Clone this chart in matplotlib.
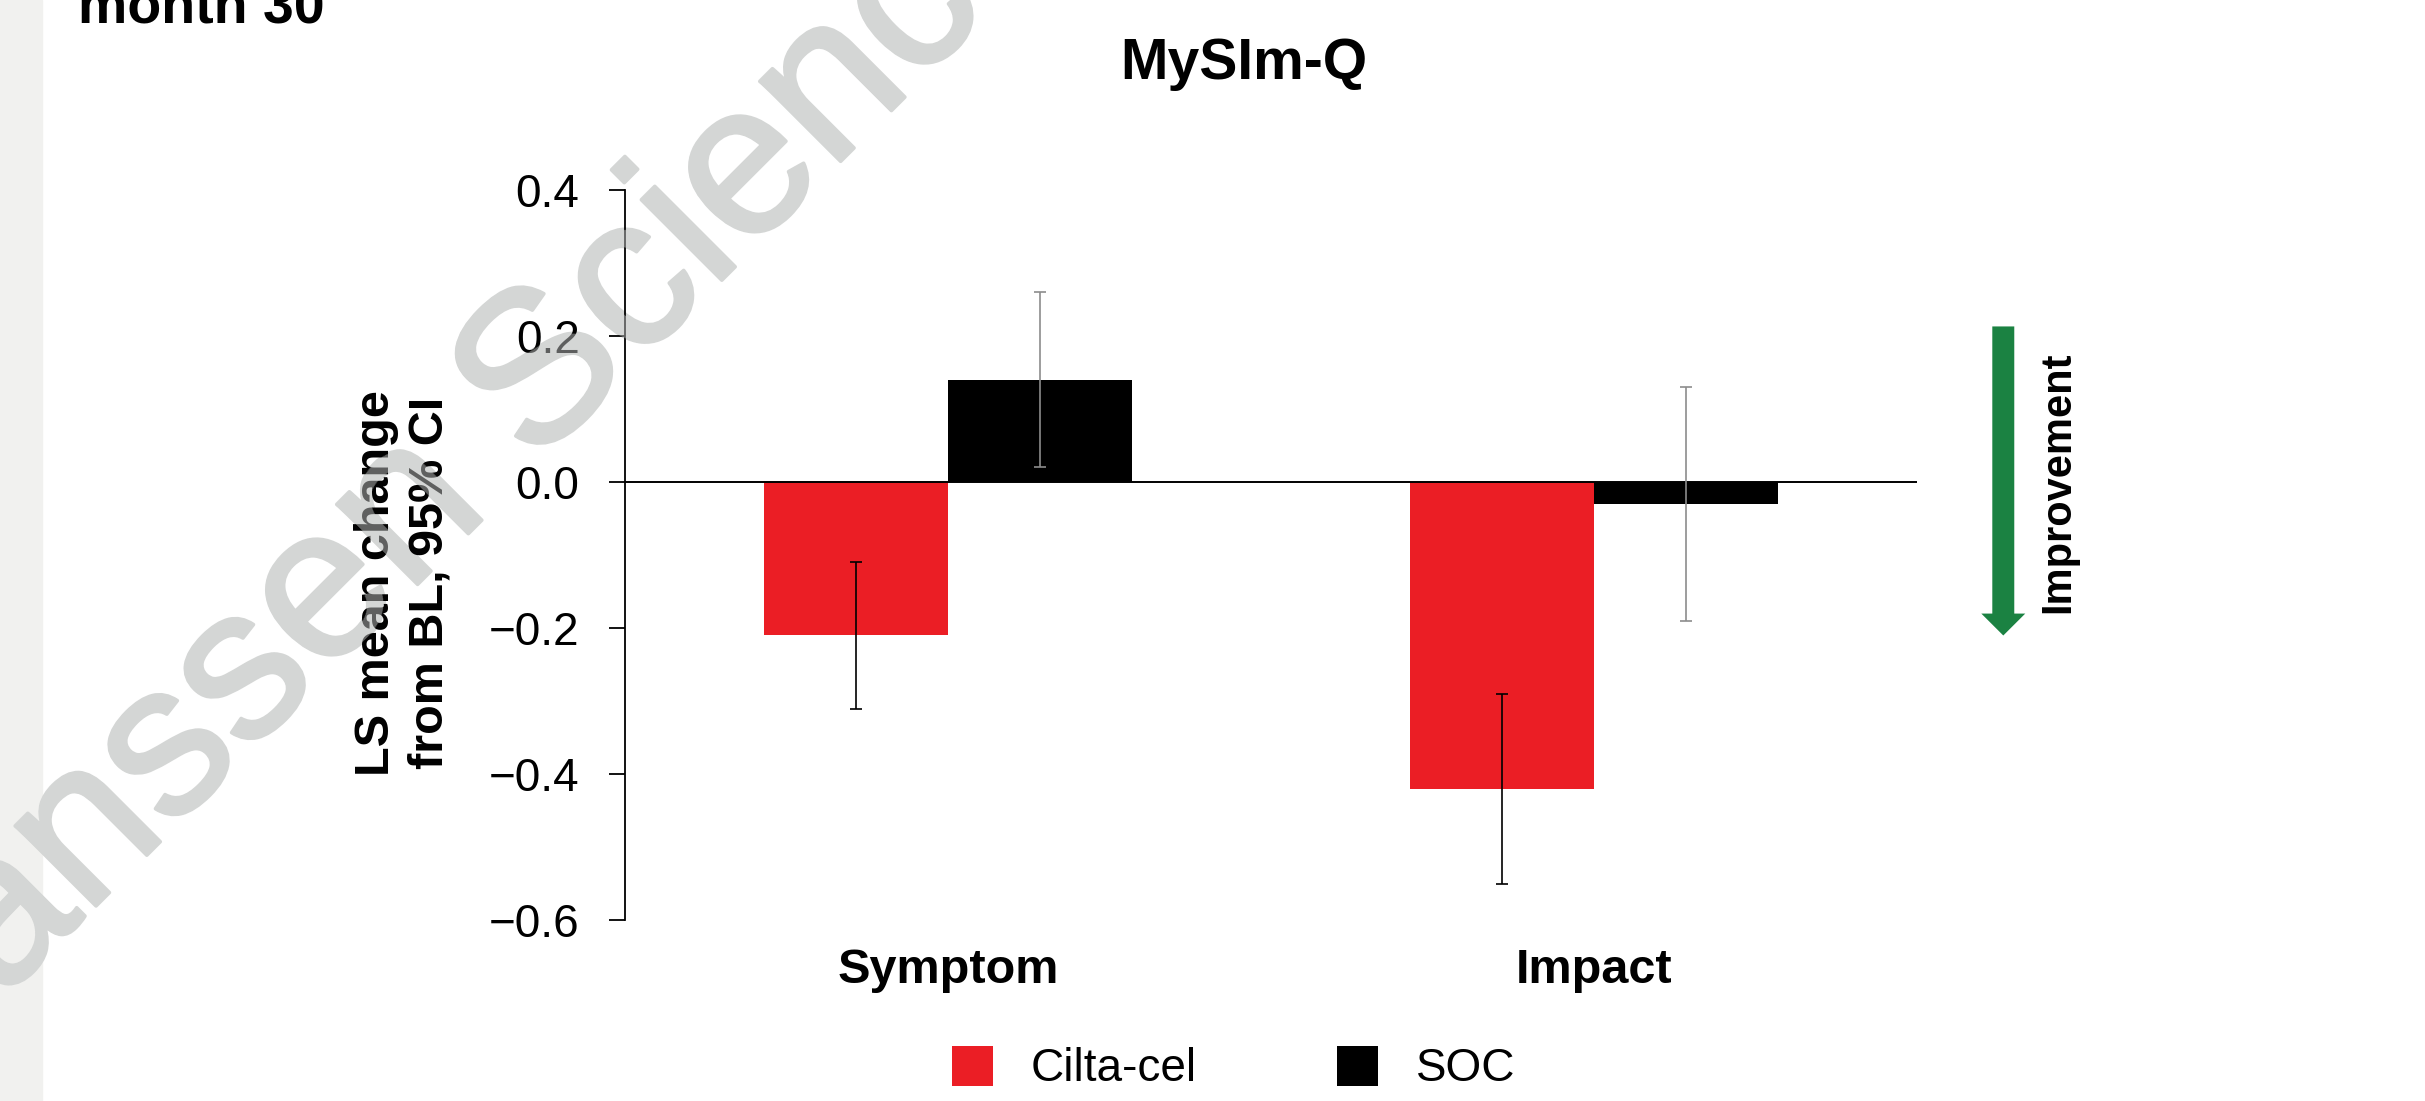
import numpy as np
import matplotlib
matplotlib.use("Agg")
import matplotlib.pyplot as plt
import matplotlib.patheffects as pe
from matplotlib.patches import Patch, Rectangle, FancyArrow
from matplotlib.transforms import blended_transform_factory

plt.rcParams['font.family'] = ['Liberation Sans', 'DejaVu Sans']

# MySIm-Q, LS mean change from baseline with 95% CI
categories = ["Symptom", "Impact"]
cilta_mean = [-0.21, -0.42]
cilta_lo = [-0.31, -0.55]
cilta_hi = [-0.11, -0.29]
soc_mean = [0.14, -0.03]
soc_lo = [0.02, -0.19]
soc_hi = [0.26, 0.13]
yticks = [-0.6, -0.4, -0.2, 0.0, 0.2, 0.4]

red = "#EB1E25"
green = "#1B8242"
wm_color = "#d4d6d5"

fig = plt.figure(figsize=(24.25, 11.01), dpi=100)

# grey strip on the left edge of the slide
fig.patches.append(Rectangle((0, 0), 42 / 2425, 1, transform=fig.transFigure,
                             color="#f1f1ef", zorder=-2))

ax = fig.add_axes([0.2576, 0.1640, 0.5330, 0.6636])

x = np.arange(len(categories))
w = 0.285

cm = np.array(cilta_mean)
sm = np.array(soc_mean)
ax.bar(x - w / 2, cm, w, color=red, linewidth=0, zorder=2)
ax.bar(x + w / 2, sm, w, color="black", linewidth=0, zorder=2)

ax.axhline(0, color="black", lw=1.4, zorder=2.5)

ax.errorbar(x - w / 2, cm, yerr=[cm - np.array(cilta_lo), np.array(cilta_hi) - cm],
            fmt="none", ecolor="black", elinewidth=1.2, capsize=4.3, capthick=1.2, zorder=3)
ax.errorbar(x + w / 2, sm, yerr=[sm - np.array(soc_lo), np.array(soc_hi) - sm],
            fmt="none", ecolor="#8c8c8c", elinewidth=1.2, capsize=4.3, capthick=1.2, zorder=3)

ax.set_xlim(-0.5, 1.5)
ax.set_ylim(-0.6, 0.4)
ax.set_yticks(yticks)
ax.set_xticks(x)
ax.set_xticklabels(categories, fontsize=35, fontweight="bold")
ax.tick_params(axis="x", length=0, pad=20)
ax.tick_params(axis="y", length=11.5, width=1.3, pad=21, labelsize=33, direction="out")

for s in ["top", "right", "bottom"]:
    ax.spines[s].set_visible(False)
ax.spines["left"].set_linewidth(1.3)
ax.patch.set_alpha(0)

ax.set_ylabel("LS mean change\nfrom BL, 95% CI", fontsize=35, fontweight="bold",
              linespacing=1.25)
ax.yaxis.set_label_coords(-0.133, 0.462)

# improvement arrow, right of the plot
tr = blended_transform_factory(ax.transAxes, ax.transData)
ax.add_patch(FancyArrow(1.0666, 0.213, 0, -0.423, width=0.017, head_width=0.034,
                        head_length=0.030, length_includes_head=True,
                        color=green, lw=0, transform=tr, clip_on=False))
ax.text(1.1095, 0.0, "Improvement", transform=tr, rotation=90, ha="center",
        va="center", fontsize=30, fontweight="bold")

fig.text(0.513, 0.928, "MySIm-Q", ha="center", va="baseline", fontsize=41,
         fontweight="bold")
fig.text(0.0322, 0.980, "month 30", ha="left", va="baseline", fontsize=40,
         fontweight="bold")

handles = [Patch(facecolor=red, edgecolor="none"),
           Patch(facecolor="black", edgecolor="none")]
fig.legend(handles, ["Cilta-cel", "SOC"], loc="center", bbox_to_anchor=(0.5087, 0.0294),
           ncol=2, frameon=False, fontsize=33, handlelength=0.895, handleheight=0.96,
           handletextpad=0.82, columnspacing=3.06)

# watermark: solid copy behind the chart, faint copy on top so text under it greys out
wm = dict(rotation=45, rotation_mode="anchor", ha="center", va="baseline", fontsize=155)
fig.text(0.2062, 0.5441, "Janssen Science", color=wm_color, zorder=-1,
         path_effects=[pe.withStroke(linewidth=2.6, foreground=wm_color)], **wm)
fig.text(0.2062, 0.5441, "Janssen Science", color=wm_color, alpha=0.45, zorder=10, **wm)

fig.savefig("out.png", dpi=100)
